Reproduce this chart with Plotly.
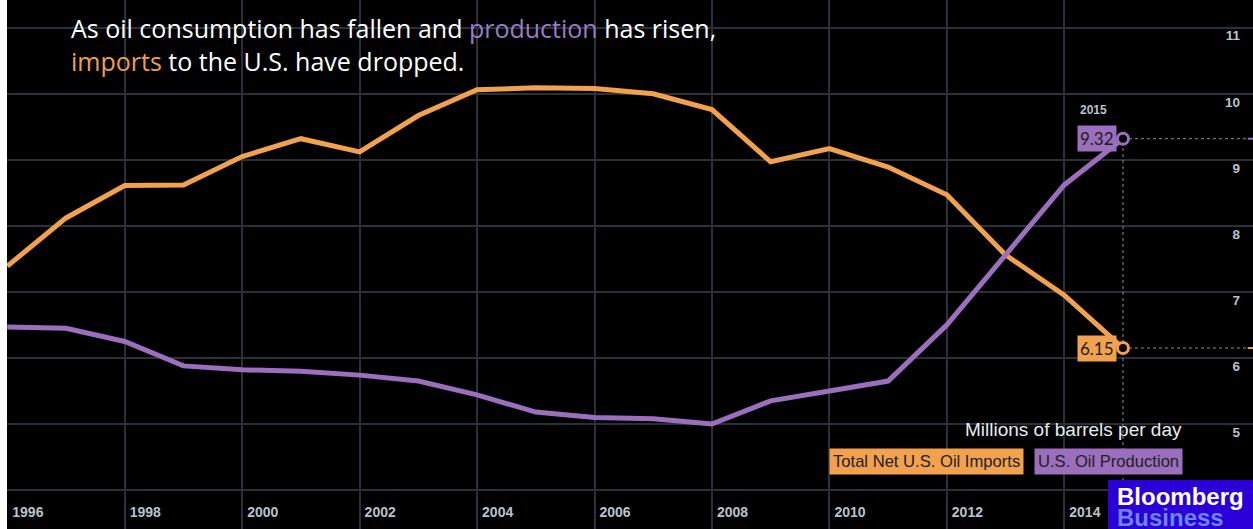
import plotly.graph_objects as go

# ---------------- data ----------------
years = list(range(1996, 2016))
imports = [7.39, 8.12, 8.61, 8.62, 9.05, 9.32, 9.12, 9.67, 10.06, 10.09,
           10.08, 10.00, 9.76, 8.97, 9.17, 8.89, 8.47, 7.56, 6.95, 6.15]
production = [6.47, 6.45, 6.25, 5.88, 5.82, 5.80, 5.74, 5.65, 5.44, 5.18,
              5.10, 5.08, 5.00, 5.35, 5.50, 5.65, 6.50, 7.55, 8.62, 9.32]
y_ticks = [4, 5, 6, 7, 8, 9, 10, 11]
y_tick_text = ["", "5", "6", "7", "8", "9", "10", "11"]
x_ticks = list(range(1996, 2016, 2))
x_tick_text = [str(y) for y in x_ticks]
series_names = ["Total Net U.S. Oil Imports", "U.S. Oil Production"]
unit_label = "Millions of barrels per day"

# ---------------- style ----------------
W, H = 1253, 529
L = 7
ORANGE = "#F2A14E"
PURPLE = "#9B6EBE"
GRID = "#2a3139"
TICK = "#b9c3cc"
X_RANGE = [1995.995, 2017.214]
Y_RANGE = [3.41, 11.42]


def px(x):
    return (x - L) / (W - L)


def py(y):
    return (H - y) / H


fig = go.Figure()
fig.add_trace(go.Scatter(x=years, y=imports, mode="lines", name=series_names[0],
                         line=dict(color=ORANGE, width=5), hoverinfo="x+y"))
fig.add_trace(go.Scatter(x=years, y=production, mode="lines", name=series_names[1],
                         line=dict(color=PURPLE, width=5), hoverinfo="x+y"))
fig.add_trace(go.Scatter(x=[years[-1], years[-1]], y=[imports[-1], production[-1]],
                         mode="markers",
                         marker=dict(size=11, color="black",
                                     line=dict(color=[ORANGE, PURPLE], width=3)),
                         hoverinfo="skip"))

shapes = []
for val, col in [(imports[-1], ORANGE), (production[-1], PURPLE)]:
    shapes.append(dict(type="line", xref="x", yref="y", x0=years[-1], x1=X_RANGE[1],
                       y0=val, y1=val, line=dict(color="#8a8f95", width=1, dash="dot"),
                       layer="between"))
    shapes.append(dict(type="line", xref="x", yref="y", x0=X_RANGE[1] - 0.09, x1=X_RANGE[1],
                       y0=val, y1=val, line=dict(color=col, width=2), layer="above"))
shapes.append(dict(type="line", xref="x", yref="y", x0=years[-1], x1=years[-1],
                   y0=Y_RANGE[0], y1=production[-1],
                   line=dict(color="#8a8f95", width=1, dash="dot"), layer="between"))
# Bloomberg logo box
shapes.append(dict(type="rect", xref="paper", yref="paper", x0=px(1108), x1=1,
                   y0=0, y1=py(480), fillcolor="#2a00d6", line=dict(width=0),
                   layer="above"))

SANS = "Liberation Sans, Arial, sans-serif"
annotations = [
    dict(xref="paper", yref="paper", x=px(69), y=py(9), xanchor="left", yanchor="top",
         align="left", showarrow=False,
         text=("As oil consumption has fallen and <span style='color:#9a7cc6'>production</span>"
               " has risen,<br><span style='color:#f0a04b'>imports</span> to the U.S. have dropped."),
         font=dict(family="'Open Sans', Lato, sans-serif", size=25, color="white")),
    dict(xref="x", yref="paper", x=years[-1], xshift=-29, y=py(110), yanchor="middle",
         showarrow=False, text=str(years[-1]),
         font=dict(family=SANS, size=12, color=TICK, weight="bold")),
    dict(xref="x", yref="y", x=years[-1], y=production[-1], xanchor="right", yanchor="middle",
         xshift=-6, showarrow=False, text=f"{production[-1]:.2f}", bgcolor=PURPLE,
         borderpad=2, font=dict(family="Lato, sans-serif", size=17, color="#1c1c1c")),
    dict(xref="x", yref="y", x=years[-1], y=imports[-1], xanchor="right", yanchor="middle",
         xshift=-6, showarrow=False, text=f"{imports[-1]:.2f}", bgcolor=ORANGE,
         borderpad=2, font=dict(family="Lato, sans-serif", size=17, color="#1c1c1c")),
    dict(xref="paper", yref="paper", x=px(1184), y=py(429), xanchor="right",
         yanchor="middle", showarrow=False, text=unit_label,
         font=dict(family=SANS, size=19, color="#e6ecf2")),
    dict(xref="paper", yref="paper", x=px(829), y=py(461), xanchor="left",
         yanchor="middle", showarrow=False, text=series_names[0], bgcolor=ORANGE,
         borderpad=3, font=dict(family=SANS, size=16.6, color="#222222")),
    dict(xref="paper", yref="paper", x=px(1034), y=py(461), xanchor="left",
         yanchor="middle", showarrow=False, text=series_names[1], bgcolor=PURPLE,
         borderpad=3, font=dict(family=SANS, size=16.6, color="#222222")),
    dict(xref="paper", yref="paper", x=px(1115), y=py(496), xanchor="left",
         yanchor="middle", showarrow=False, text="Bloomberg",
         font=dict(family=SANS, size=24, color="white", weight="bold")),
    dict(xref="paper", yref="paper", x=px(1115), y=py(517), xanchor="left",
         yanchor="middle", showarrow=False, text="Business",
         font=dict(family=SANS, size=24, color="#6b86ff", weight="bold")),
]

fig.update_layout(
    width=W, height=H,
    margin=dict(l=L, r=0, t=0, b=0, pad=0),
    paper_bgcolor="white", plot_bgcolor="black",
    showlegend=False,
    shapes=shapes, annotations=annotations,
    xaxis=dict(range=X_RANGE, tickvals=x_ticks, ticktext=x_tick_text,
               showgrid=True, gridcolor=GRID, gridwidth=1.5, zeroline=False,
               showline=False, ticks="", ticklabelposition="inside right",
               ticklabelstandoff=3, ticklabelshift=5,
               tickfont=dict(family=SANS, size=14, color=TICK, weight="bold")),
    yaxis=dict(range=Y_RANGE, side="right", tickvals=y_ticks, ticktext=y_tick_text,
               showgrid=True, gridcolor=GRID, gridwidth=1.5, zeroline=False,
               showline=False, ticks="", ticklabelposition="inside",
               ticklabelstandoff=10, ticklabelshift=8,
               tickfont=dict(family=SANS, size=13.5, color=TICK, weight="bold")),
)

fig.write_html("out.html", config={"displayModeBar": False},
               post_script="document.body.style.margin='0';document.body.style.overflow='hidden';")
